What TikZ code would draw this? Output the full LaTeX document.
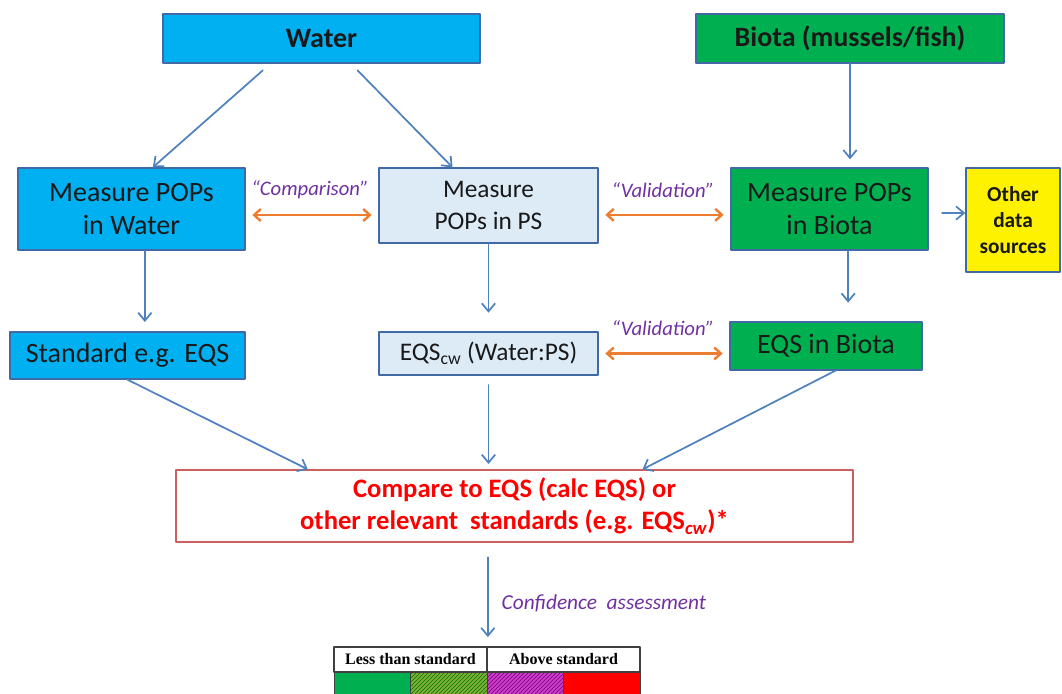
\documentclass[tikz,border=0pt]{standalone}
\usepackage{fontspec}
\setmainfont{Carlito}
\newfontfamily\tabfont{Liberation Serif}
\usetikzlibrary{arrows.meta,patterns}
\definecolor{watercyan}{RGB}{0,176,240}
\definecolor{biotagreen}{RGB}{0,176,80}
\definecolor{psblue}{RGB}{220,235,246}
\definecolor{boxedge}{RGB}{65,105,165}
\definecolor{arrowblue}{RGB}{79,129,189}
\definecolor{linkorange}{RGB}{237,125,49}
\definecolor{tagpurple}{RGB}{112,48,160}
\definecolor{compedge}{RGB}{205,95,95}
\definecolor{hatchgreen}{RGB}{125,175,55}
\definecolor{hatchmag}{RGB}{200,60,200}

\begin{document}
\begin{tikzpicture}[x=0.75pt,y=-0.75pt,line cap=round,line join=round,
  box/.style={draw=boxedge,line width=1pt,inner sep=0pt,align=center,text=black!90},
  bigtext/.style={font=\fontsize{21}{25}\selectfont},
  pstext/.style={font=\fontsize{19}{24}\selectfont},
  flow/.style={-{Straight Barb[length=6pt,width=10pt]},arrowblue,line width=1.3pt},
  link/.style={{Straight Barb[length=5pt,width=9pt]}-{Straight Barb[length=5pt,width=9pt]},linkorange,line width=1.8pt,shorten <=5pt,shorten >=5pt},
  tag/.style={font=\fontsize{15.5}{18}\selectfont\itshape,text=tagpurple},
  head/.style={draw=black!75,line width=0.8pt,minimum width=114.75pt,minimum height=18.75pt,inner sep=0pt,font=\tabfont\bfseries\fontsize{12}{14}\selectfont},
  cell/.style={draw=black!75,line width=0.8pt,minimum width=57.4pt,minimum height=21pt,inner sep=0pt,anchor=north}]
\useasboundingbox (0,0) rectangle (1062,693);
% sources
\node[box,fill=watercyan,minimum width=237.75pt,minimum height=36.75pt,font=\bfseries\fontsize{21}{25}\selectfont] (water) at (321.5,38.5) {Water};
\node[box,fill=biotagreen,minimum width=231pt,minimum height=36.75pt,font=\bfseries\fontsize{21}{25}\selectfont] (biota) at (850,38.5) {Biota (mussels/fish)};
% measurements
\node[box,fill=watercyan,minimum width=170.25pt,minimum height=61.5pt,bigtext] (mwater) at (131.5,209) {Measure POPs\\in Water};
\node[box,fill=psblue,minimum width=164.25pt,minimum height=56.25pt,pstext] (mps) at (488.5,205.5) {Measure\\POPs in PS};
\node[box,fill=biotagreen,minimum width=147.75pt,minimum height=61.5pt,bigtext] (mbiota) at (829.5,209) {Measure POPs\\in Biota};
\node[box,fill=yellow,minimum width=70.5pt,minimum height=78pt,font=\bfseries\fontsize{16}{19.5}\selectfont] (other) at (1013,220) {Other\\data\\sources};
% standards
\node[box,fill=watercyan,minimum width=176.25pt,minimum height=35.25pt,bigtext] (standard) at (127.5,355.5) {Standard e.g. EQS};
\node[box,fill=psblue,minimum width=164.25pt,minimum height=32.25pt,pstext] (eqscw) at (488.5,353.5) {EQS\textsubscript{cw} (Water:PS)};
\node[box,fill=biotagreen,minimum width=144pt,minimum height=36pt,bigtext] (eqsbiota) at (826,346) {EQS in Biota};
% comparison
\node[draw=compedge,line width=1pt,fill=white,minimum width=507.75pt,minimum height=54pt,inner sep=0pt,align=center,text=red,font=\bfseries\fontsize{20}{24.5}\selectfont] (compare) at (514.5,506) {Compare to EQS (calc EQS) or\\other relevant\ \ standards (e.g. EQS\textsubscript{\itshape cw})*};
% result table
\node[head] (less) at (410.5,659.5) {Less than standard};
\node[head] (above) at (563.5,659.5) {Above standard};
\node[cell,fill=biotagreen] (c1) at (372.6,672) {};
\node[cell,preaction={fill=hatchgreen},pattern=north east lines,pattern color=black!55!green] (c2) at (448.9,672) {};
\node[cell,preaction={fill=hatchmag},pattern=north east lines,pattern color=violet] (c3) at (525.4,672) {};
\node[cell,fill=red] (c4) at (601.9,672) {};
% arrows
\draw[flow] ([xshift=-44pt,yshift=-5pt]water.south) -- ([xshift=16pt]mwater.north);
\draw[flow] ([xshift=27pt,yshift=-5pt]water.south) -- ([xshift=-27pt]mps.north);
\draw[flow,shorten >=6pt] (biota.south) -- (biota.south |- mbiota.north);
\draw[flow,shorten >=7pt] ([xshift=10pt]mwater.south) -- ([xshift=10pt]mwater.south |- standard.north);
\draw[flow,shorten >=14pt] (mps.south) -- (mps.south |- eqscw.north);
\draw[flow,shorten >=14pt] ([xshift=14pt]mbiota.south) -- ([xshift=14pt]mbiota.south |- eqsbiota.north);
\draw[flow,shorten <=10pt] ([yshift=-3pt]mbiota.east) -- ([yshift=-3pt]mbiota.east -| other.west);
\draw[flow] (standard.south) -- ([xshift=-155pt]compare.north);
\draw[flow,shorten <=7pt,shorten >=4pt] (eqscw.south) -- (eqscw.south |- compare.north);
\draw[flow] ([xshift=7pt]eqsbiota.south) -- ([xshift=96pt]compare.north);
\draw[flow,shorten <=11pt,shorten >=7pt] ([xshift=-20pt]compare.south) -- ([xshift=-20pt]compare.south |- less.north);
% comparison / validation links
\draw[link] ([yshift=-4.5pt]mwater.east) -- ([yshift=-4.5pt]mwater.east -| mps.west);
\draw[link] ([yshift=-7pt]mps.east) -- ([yshift=-7pt]mps.east -| mbiota.west);
\draw[link] (eqscw.east) -- (eqscw.east -| eqsbiota.west);
\node[tag] (tcomp) at (310,190) {“Comparison”};
\node[tag] (tval1) at (663,190) {“Validation”};
\node[tag] (tval2) at (663,328) {“Validation”};
\node[tag,anchor=west,font=\fontsize{16}{19}\selectfont\itshape] (tconf) at (497,603) {Confidence\ \ assessment};
\end{tikzpicture}
\end{document}
